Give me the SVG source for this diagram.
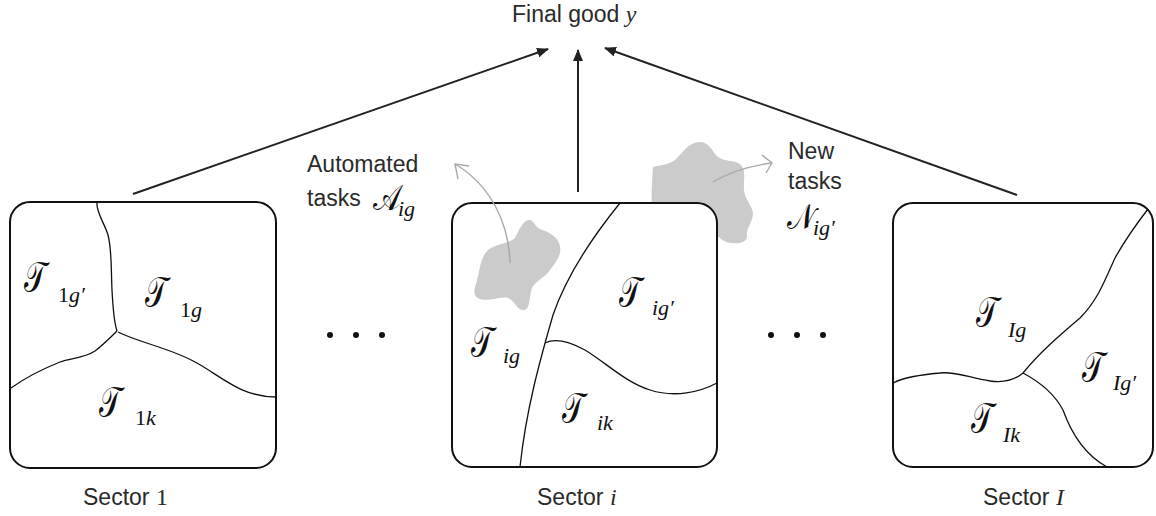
<svg xmlns="http://www.w3.org/2000/svg" width="1156" height="516" viewBox="0 0 1156 516">
<defs>
<style>
.box{fill:#fff;stroke:#111;stroke-width:2}
.div{fill:none;stroke:#111;stroke-width:1.3}
.lbl{font-family:"Liberation Sans",Arial,sans-serif;font-size:23px;fill:#2a2a2a}
.ttl{font-family:"Liberation Sans",Arial,sans-serif;font-size:23px;fill:#2a2a2a}
.scr{font-family:"DejaVu Sans","DejaVu Serif","Liberation Serif",serif;font-size:29px;fill:#111}
.sub{font-family:"Liberation Serif","Times New Roman",serif;font-style:italic;font-size:22px;fill:#111}
.num{font-family:"Liberation Serif","Times New Roman",serif;font-size:24px;fill:#2a2a2a}
.conn{fill:none;stroke:#222;stroke-width:2}
.blob{fill:#cbcbcb}
.garr{fill:none;stroke:#a8a8a8;stroke-width:1.4}
.dot{fill:#111}
</style>
<marker id="ah" viewBox="0 0 12 10" refX="11" refY="5" markerWidth="6" markerHeight="5" orient="auto" markerUnits="strokeWidth">
<path d="M0,0 L12,5 L0,10 Z" fill="#222"/>
</marker>
</defs>

<g id="title">
<text class="ttl" x="512" y="22">Final good <tspan class="num" font-style="italic" font-size="27">y</tspan></text>
</g>

<g id="connectors">
<path class="conn" d="M133,194 L548,49" marker-end="url(#ah)"/>
<path class="conn" d="M578,192 L578,50" marker-end="url(#ah)"/>
<path class="conn" d="M1017,195 L605,48" marker-end="url(#ah)"/>
</g>

<g id="sector1">
<rect class="box" x="10" y="202" width="266" height="266" rx="20"/>
<path class="div" d="M97,203 C96,212 104,222 108,235 C112,250 111,270 112,290 C113,310 114,322 117,331"/>
<path class="div" d="M117,331 C110,338 103,345 95,351 C85,358 70,358 60,362 C40,370 25,378 11,388"/>
<path class="div" d="M118,332 C140,343 170,348 195,362 C220,375 240,397 276,397"/>
<text class="scr" transform="translate(24,292) scale(1,1.5)">𝒯</text><text class="sub" x="58" y="302"><tspan font-style="normal">1</tspan>g′</text>
<text class="scr" transform="translate(145,307) scale(1,1.5)">𝒯</text><text class="sub" x="180" y="317"><tspan font-style="normal">1</tspan>g</text>
<text class="scr" transform="translate(99,417) scale(1,1.5)">𝒯</text><text class="sub" x="135" y="425"><tspan font-style="normal">1</tspan>k</text>
<text class="lbl" x="83" y="505">Sector <tspan class="num">1</tspan></text>
</g>

<g id="dots1">
<circle class="dot" cx="330" cy="335" r="3"/>
<circle class="dot" cx="356" cy="335" r="3"/>
<circle class="dot" cx="382" cy="335" r="3"/>
</g>

<g id="newtasks">
<path class="blob" d="M653,167 C660,165 668,165 675,160 C682,154 688,142 700,142 C710,142 712,152 718,157 C725,162 735,160 740,164 C747,170 743,182 744,190 C745,200 752,205 753,213 C753,222 746,228 747,236 C747,243 738,244 730,243 C724,242 720,238 717,236 L717,215 L652,215 C651,200 652,180 653,167 Z"/>
<path class="garr" d="M713,182 C730,172 750,166 771,163"/>
<path class="garr" d="M762,155 L772,163 L766,173"/>
<text class="lbl" x="788" y="159">New</text>
<text class="lbl" x="788" y="189">tasks</text>
<text class="scr" transform="translate(787,229) scale(1,1.2)" font-size="21">𝒩</text><text class="sub" x="813" y="235" font-size="18">ig′</text>
</g>

<g id="sector_i">
<rect class="box" x="452" y="203" width="265" height="264" rx="20"/>
<path class="div" d="M620,203 C590,240 565,280 553,315 C540,360 526,410 520,467"/>
<path class="div" d="M545,343 C555,338 570,342 585,350 C605,362 625,382 650,390 C675,398 700,392 717,383"/>
<path class="blob" d="M528,220 C522,222 518,232 515,238 C508,244 496,244 488,250 C480,258 480,270 477,280 C474,290 472,296 480,299 C490,302 500,296 508,298 C516,302 516,310 524,310 C531,309 529,295 532,288 C536,280 545,278 550,270 C556,262 562,255 560,246 C558,236 548,232 540,229 C534,226 534,219 528,220 Z"/>
<path class="garr" d="M510,263 C509,225 492,186 455,164"/>
<path class="garr" d="M469,166 L455,164 L458,179"/>
<text class="scr" transform="translate(619,307) scale(1,1.5)">𝒯</text><text class="sub" x="652" y="315">ig′</text>
<text class="scr" transform="translate(471,357) scale(1,1.5)">𝒯</text><text class="sub" x="503" y="363">ig</text>
<text class="scr" transform="translate(562,423) scale(1,1.5)">𝒯</text><text class="sub" x="597" y="430">ik</text>
<text class="lbl" x="537" y="505">Sector <tspan class="num" font-style="italic">i</tspan></text>
</g>

<g id="automated">
<text class="lbl" x="307" y="172" font-size="24">Automated</text>
<text class="lbl" x="307" y="206" font-size="24">tasks</text>
<text class="scr" transform="translate(373,210) scale(1,1.2)" font-size="21">𝒜</text><text class="sub" x="398" y="216" font-size="18">ig</text>
</g>

<g id="dots2">
<circle class="dot" cx="771" cy="335" r="3"/>
<circle class="dot" cx="797" cy="335" r="3"/>
<circle class="dot" cx="823" cy="335" r="3"/>
</g>

<g id="sector_I">
<rect class="box" x="893" y="203" width="260" height="264" rx="20"/>
<path class="div" d="M1148,209 C1138,222 1125,240 1115,258 C1105,280 1098,300 1080,318 C1060,335 1040,352 1023,373"/>
<path class="div" d="M1023,373 C1015,380 1005,383 990,381 C970,378 955,371 940,373 C920,375 905,377 893,383"/>
<path class="div" d="M1023,373 C1040,382 1055,395 1063,410 C1072,435 1085,455 1107,467"/>
<text class="scr" transform="translate(976,327) scale(1,1.5)">𝒯</text><text class="sub" x="1008" y="337">Ig</text>
<text class="scr" transform="translate(1082,382) scale(1,1.5)">𝒯</text><text class="sub" x="1113" y="390">Ig′</text>
<text class="scr" transform="translate(971,433) scale(1,1.5)">𝒯</text><text class="sub" x="1003" y="442">Ik</text>
<text class="lbl" x="983" y="505">Sector <tspan class="num" font-style="italic">I</tspan></text>
</g>
</svg>
